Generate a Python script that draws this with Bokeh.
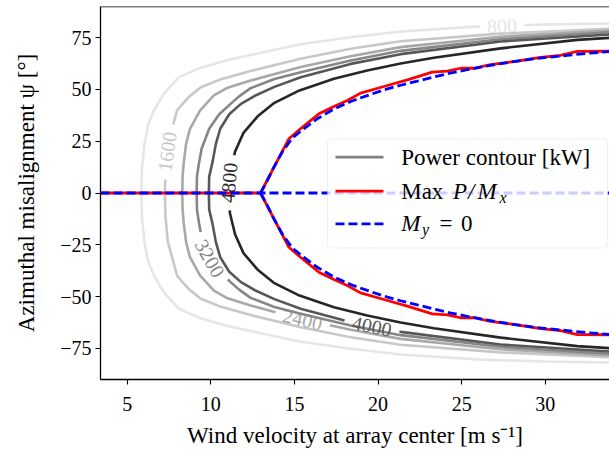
import math
import numpy as np
from bokeh.plotting import figure
from bokeh.models import Range1d, FixedTicker, Span, BoxAnnotation, Arrow, Label
from bokeh.core.properties import value
from bokeh.embed import file_html
from bokeh.resources import INLINE

SERIF = "Liberation Serif"

# ---------------------------------------------------------------------------
# Data: wind velocity v [m/s] versus azimuthal misalignment psi [deg].
# Curves are given for psi >= 0; the power map is symmetric about psi = 0.
# ---------------------------------------------------------------------------
levels = [800, 1600, 2400, 3200, 4000, 4800]
level_colors = ["#e6e6e6", "#c8c8c8", "#a8a8a8", "#868686", "#575757", "#262626"]

c800_v = [5.84, 5.88, 6.03, 6.25, 6.59, 7.19, 8.09, 9.40, 10.9, 12.38, 15.37, 18.36, 21.35, 26.13, 30.0, 33.84, 35.5]
c800_psi = [0.0, 12.0, 23.7, 33.0, 39.8, 47.9, 55.9, 60.5, 64.0, 66.6, 71.8, 75.2, 77.9, 80.4, 81.3, 81.8, 82.0]

c1600_v = [7.25, 7.29, 7.43, 7.76, 7.98, 8.2, 8.7, 9.4, 10.5, 12.38, 15.37, 18.36, 21.35, 27.33, 33.84, 35.5]
c1600_psi = [0.0, 12.0, 23.7, 33.4, 39.8, 42.0, 46.5, 51.0, 54.6, 58.9, 64.8, 69.6, 73.2, 76.9, 79.2, 79.6]

c2400_v = [8.29, 8.31, 8.38, 8.52, 8.75, 9.35, 10.18, 11.0, 12.38, 15.37, 18.36, 21.35, 27.33, 33.84, 35.5]
c2400_psi = [0.0, 8.0, 14.9, 23.7, 31.0, 39.8, 47.1, 50.8, 54.3, 60.8, 66.0, 70.4, 75.4, 78.4, 78.8]

c3200_v = [9.15, 9.17, 9.30, 9.45, 9.9, 10.5, 11.18, 11.67, 12.38, 13.8, 15.37, 18.36, 21.35, 27.33, 33.84, 35.5]
c3200_psi = [0.0, 8.0, 14.9, 21.5, 31.0, 38.0, 43.0, 46.5, 50.6, 55.0, 58.3, 63.9, 68.6, 74.2, 77.6, 78.0]

c4000_v = [9.88, 9.90, 10.10, 10.30, 10.56, 11.1, 11.8, 12.7, 13.8, 15.37, 18.36, 21.35, 27.33, 33.84, 35.5]
c4000_psi = [0.0, 8.0, 14.9, 23.7, 31.0, 38.0, 43.0, 47.2, 51.2, 55.9, 62.3, 67.0, 73.1, 76.5, 77.0]

c4800_v = [11.0, 11.15, 11.45, 11.95, 12.8, 13.8, 15.3, 17.36, 19.35, 21.35, 23.34, 27.33, 31.91, 33.84, 35.5]
c4800_psi = [0.0, 10.0, 20.0, 29.0, 37.0, 43.5, 49.5, 55.1, 59.1, 62.5, 65.3, 69.8, 73.9, 74.9, 75.6]

contour_v = [c800_v, c1600_v, c2400_v, c3200_v, c4000_v, c4800_v]
contour_psi = [c800_psi, c1600_psi, c2400_psi, c3200_psi, c4000_psi, c4800_psi]

# where each contour carries its inline label (signed psi along the contour)
label_psi = [80.7, 20.0, -61.0, -31.5, -64.3, 5.0]

# Max P/M_x operating curve (upper branch)
red_v = [12.97, 14.67, 15.36, 16.46, 17.36, 18.16, 18.95, 20.35, 21.75, 23.24, 24.14, 24.93,
         25.73, 26.73, 28.32, 29.72, 30.91, 31.91, 33.84, 35.5]
red_psi = [0.0, 26.2, 31.0, 38.2, 41.7, 44.6, 48.2, 51.4, 54.6, 58.3, 58.8, 60.2,
           60.2, 62.0, 63.6, 65.5, 66.4, 68.3, 68.4, 68.4]

# M_y = 0 curve (upper branch)
blue_v = [12.97, 13.28, 13.77, 14.27, 14.87, 15.56, 16.36, 17.36, 18.4, 19.35, 20.35, 21.35,
          22.35, 23.34, 24.3, 25.33, 26.3, 27.33, 28.3, 29.32, 30.3, 31.31, 32.5, 33.84, 35.5]
blue_psi = [0.0, 4.5, 12.5, 19.8, 26.5, 31.0, 35.8, 40.5, 44.3, 47.0, 49.8, 52.0,
            54.0, 56.0, 57.8, 59.5, 61.0, 62.4, 63.6, 64.8, 65.6, 66.4, 67.4, 68.2, 68.6]

# psi = 0 branches: both start at the lowest velocity; Max P/M_x leaves it at the split point
zero_v_start = 3.4
zero_v_end = 35.5

x_ticks = [5, 10, 15, 20, 25, 30]
y_ticks = [-75, -50, -25, 0, 25, 50, 75]

# ---------------------------------------------------------------------------
# Figure geometry
# ---------------------------------------------------------------------------
X_RANGE = (3.4, 33.84)
Y_RANGE = (-90.0, 90.0)
W, H = 609, 450
B_LEFT, B_TOP, B_BOTTOM = 100, 6, 71
FRAME_W = W - B_LEFT
FRAME_H = H - B_TOP - B_BOTTOM


def to_screen(v, psi):
    sx = (np.asarray(v, float) - X_RANGE[0]) / (X_RANGE[1] - X_RANGE[0]) * FRAME_W
    sy = (np.asarray(psi, float) - Y_RANGE[0]) / (Y_RANGE[1] - Y_RANGE[0]) * FRAME_H
    return sx, sy


def mirrored(v, psi):
    v = np.asarray(v, float)
    psi = np.asarray(psi, float)
    return (np.concatenate([v[::-1], v[1:]]),
            np.concatenate([-psi[::-1], psi[1:]]))


def inline_label(v, psi, anchor_psi, half_gap):
    """Open a gap in the contour around the label and return label pose."""
    sx, sy = to_screen(v, psi)
    s = np.concatenate([[0.0], np.cumsum(np.hypot(np.diff(sx), np.diff(sy)))])
    sc = float(np.interp(anchor_psi, psi, s))
    s0, s1 = sc - half_gap, sc + half_gap

    def at(sv):
        return float(np.interp(sv, s, v)), float(np.interp(sv, s, psi))

    v0, p0 = at(s0)
    v1, p1 = at(s1)
    xs = list(v[s < s0]) + [v0, np.nan, v1] + list(v[s > s1])
    ys = list(psi[s < s0]) + [p0, np.nan, p1] + list(psi[s > s1])
    cx, cy = at(sc)
    ax, ay = to_screen(v0, p0)
    bx, by = to_screen(v1, p1)
    ang = math.atan2(float(by - ay), float(bx - ax))
    if ang > math.pi / 2:
        ang -= math.pi
    elif ang < -math.pi / 2:
        ang += math.pi
    return xs, ys, cx, cy, ang


p = figure(width=W, height=H, x_range=Range1d(*X_RANGE), y_range=Range1d(*Y_RANGE),
           output_backend="svg", toolbar_location=None,
           min_border_left=B_LEFT, min_border_right=0,
           min_border_top=B_TOP, min_border_bottom=B_BOTTOM)
p.xgrid.visible = False
p.ygrid.visible = False
p.outline_line_color = None
p.background_fill_color = "white"
p.border_fill_color = "white"

# ---- power contours with inline labels ----
LABEL_PX = 20
for lev, col, cv, cp, lp in zip(levels, level_colors, contour_v, contour_psi, label_psi):
    fv, fp = mirrored(cv, cp)
    text = str(lev)
    half_gap = 0.6 * (0.5 * LABEL_PX * len(text)) + 4
    xs, ys, cx, cy, ang = inline_label(fv, fp, lp, half_gap)
    p.line(xs, ys, line_color=col, line_width=2.6)
    p.text(x=[cx], y=[cy], text=[text], angle=[ang], text_color=col,
           text_font=value(SERIF), text_font_size=f"{LABEL_PX}px",
           text_align="center", text_baseline="middle")

# ---- Max P/M_x ----
rv = np.asarray(red_v, float)
rp = np.asarray(red_psi, float)
p.line([zero_v_start] + list(rv), [0.0] + list(rp), line_color="red", line_width=2.8)
p.line(rv, -rp, line_color="red", line_width=2.8)

# ---- M_y = 0 ----
bv = np.asarray(blue_v, float)
bp = np.asarray(blue_psi, float)
p.line([zero_v_start, zero_v_end], [0.0, 0.0], line_color="blue", line_width=2.8, line_dash="9 4")
p.line(bv, bp, line_color="blue", line_width=2.8, line_dash="9 4")
p.line(bv, -bp, line_color="blue", line_width=2.8, line_dash="9 4")

# ---- axes ----
for ax in (p.xaxis, p.yaxis):
    ax.axis_line_color = "black"
    ax.axis_line_width = 1.3
    ax.major_tick_line_color = "black"
    ax.major_tick_line_width = 1.1
    ax.major_tick_out = 5
    ax.major_tick_in = 0
    ax.minor_tick_line_color = None
    ax.major_label_text_font = SERIF
    ax.major_label_text_font_size = "20px"
    ax.major_label_text_color = "black"
    ax.axis_label_text_font = SERIF
    ax.axis_label_text_font_size = "23px"
    ax.axis_label_text_font_style = "normal"
    ax.axis_label_text_color = "black"

p.xaxis.ticker = FixedTicker(ticks=x_ticks)
p.yaxis.ticker = FixedTicker(ticks=y_ticks)
p.yaxis.major_label_overrides = {t: (f"\u2212{abs(t)}" if t < 0 else str(t)) for t in y_ticks}
p.xaxis.axis_label = "Wind velocity at array center [m s\u207b\u00b9]"
p.yaxis.axis_label = "Azimuthal misalignment \u03c8 [\u00b0]"
p.xaxis.major_label_standoff = 12
p.xaxis.axis_label_standoff = 9
p.yaxis.major_label_standoff = 4
p.yaxis.axis_label_standoff = 18

# top spine
p.add_layout(Span(location=Y_RANGE[1], dimension="width", line_color="black", line_width=1.3))

# ---- legend (frame screen units) ----
p.add_layout(BoxAnnotation(left=227, right=507, bottom=131.5, top=240.5,
                           left_units="screen", right_units="screen",
                           bottom_units="screen", top_units="screen",
                           fill_color="white", fill_alpha=0.8,
                           line_color="#cccccc", line_width=1.2, border_radius=4))

rows_y = [222.3, 188.3, 155.7]
p.add_layout(Arrow(end=None, x_start=235, y_start=rows_y[0], x_end=283, y_end=rows_y[0],
                   start_units="screen", end_units="screen", line_color="gray", line_width=2.8))
p.add_layout(Arrow(end=None, x_start=235, y_start=rows_y[1], x_end=283, y_end=rows_y[1],
                   start_units="screen", end_units="screen", line_color="red", line_width=2.8))
p.add_layout(Arrow(end=None, x_start=235, y_start=rows_y[2], x_end=283, y_end=rows_y[2],
                   start_units="screen", end_units="screen", line_color="blue", line_width=2.8,
                   line_dash="9 4"))


def legend_text(x, y, text, size=23, style="normal"):
    p.add_layout(Label(x=x, y=y, x_units="screen", y_units="screen", text=text,
                       text_font=SERIF, text_font_size=f"{size}px", text_font_style=style,
                       text_color="black", text_align="left", text_baseline="middle"))


legend_text(300.7, rows_y[0], "Power contour [kW]")
legend_text(300.7, rows_y[1], "Max")
legend_text(352.5, rows_y[1], "P", style="italic")
legend_text(367.5, rows_y[1], "/", style="italic")
legend_text(377.0, rows_y[1], "M", style="italic")
legend_text(399.0, rows_y[1] - 6, "x", size=16, style="italic")
legend_text(300.7, rows_y[2], "M", style="italic")
legend_text(321.5, rows_y[2] - 6, "y", size=16, style="italic")
legend_text(339.0, rows_y[2], "=")
legend_text(360.5, rows_y[2], "0")

open("out.html", "w").write(file_html(p, INLINE))
